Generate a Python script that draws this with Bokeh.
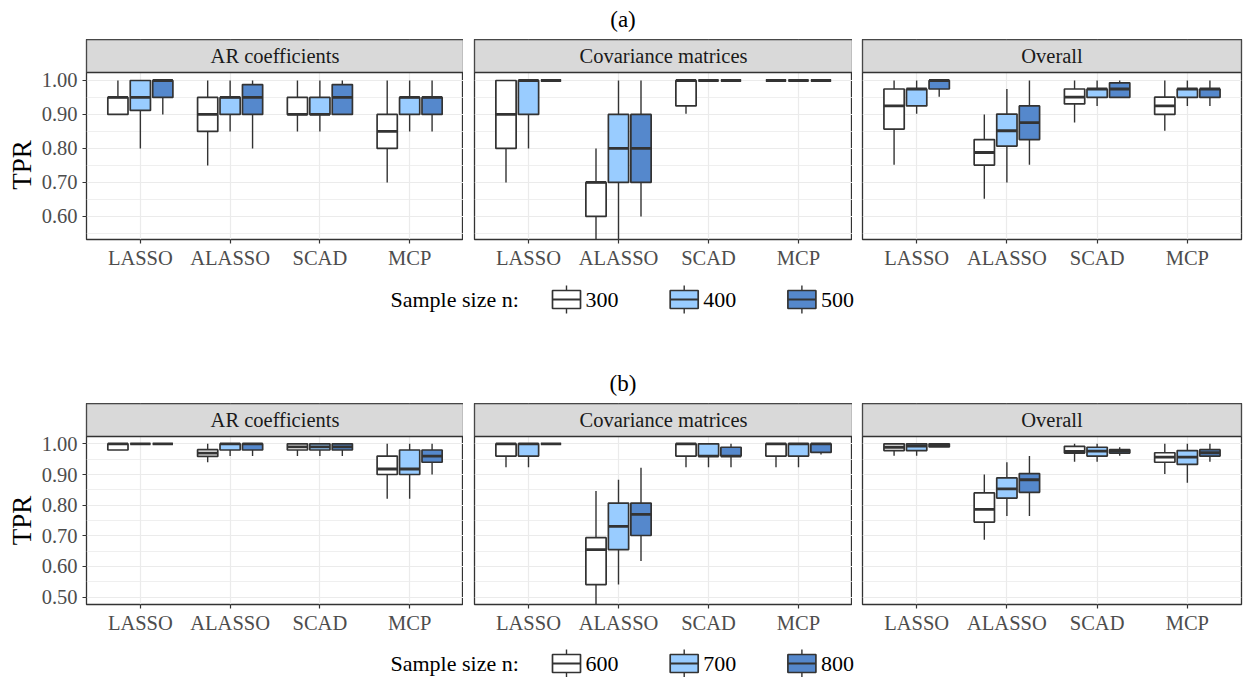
import math
from bokeh.plotting import figure
from bokeh.layouts import column, row
from bokeh.models import Range1d, FixedTicker, PrintfTickFormatter, ColumnDataSource
from bokeh.core.properties import value
from bokeh.embed import file_html
from bokeh.resources import INLINE

# ---------------- data ----------------
methods = ["LASSO", "ALASSO", "SCAD", "MCP"]
panels = ["AR coefficients", "Covariance matrices", "Overall"]
sizes_a = ["300", "400", "500"]
sizes_b = ["600", "700", "800"]
fills = ["#FFFFFF", "#99CCFF", "#5588CC"]
legend_title = "Sample size n:"
y_title = "TPR"

yticks_a = [0.6, 0.7, 0.8, 0.9, 1.0]
yminor_a = [0.55, 0.65, 0.75, 0.85, 0.95]
ylim_a = [0.532, 1.0235]
yticks_b = [0.5, 0.6, 0.7, 0.8, 0.9, 1.0]
yminor_b = [0.55, 0.65, 0.75, 0.85, 0.95]
ylim_b = [0.476, 1.024]

# Box statistics: rows = LASSO, ALASSO, SCAD, MCP ; columns = three sample sizes
# (a) AR coefficients
a_ar_low  = [[0.90, 0.80, 0.90], [0.75, 0.85, 0.80], [0.85, 0.85, 0.90], [0.70, 0.85, 0.85]]
a_ar_q1   = [[0.90, 0.912, 0.95], [0.85, 0.90, 0.90], [0.90, 0.90, 0.90], [0.80, 0.90, 0.90]]
a_ar_med  = [[0.95, 0.95, 1.00], [0.90, 0.95, 0.95], [0.90, 0.90, 0.95], [0.85, 0.95, 0.95]]
a_ar_q3   = [[0.95, 1.00, 1.00], [0.95, 0.95, 0.988], [0.95, 0.95, 0.988], [0.90, 0.95, 0.95]]
a_ar_high = [[1.00, 1.00, 1.00], [1.00, 1.00, 1.00], [1.00, 1.00, 1.00], [1.00, 1.00, 1.00]]
# (a) Covariance matrices
a_cov_low  = [[0.70, 0.80, 1.00], [0.50, 0.50, 0.60], [0.902, 1.00, 1.00], [1.00, 1.00, 1.00]]
a_cov_q1   = [[0.80, 0.90, 1.00], [0.60, 0.70, 0.70], [0.925, 1.00, 1.00], [1.00, 1.00, 1.00]]
a_cov_med  = [[0.90, 1.00, 1.00], [0.70, 0.80, 0.80], [1.00, 1.00, 1.00], [1.00, 1.00, 1.00]]
a_cov_q3   = [[1.00, 1.00, 1.00], [0.70, 0.90, 0.90], [1.00, 1.00, 1.00], [1.00, 1.00, 1.00]]
a_cov_high = [[1.00, 1.00, 1.00], [0.80, 1.00, 1.00], [1.00, 1.00, 1.00], [1.00, 1.00, 1.00]]
# (a) Overall
a_all_low  = [[0.752, 0.902, 0.952], [0.652, 0.700, 0.752], [0.876, 0.925, 0.950], [0.852, 0.925, 0.925]]
a_all_q1   = [[0.857, 0.925, 0.975], [0.751, 0.807, 0.826], [0.931, 0.950, 0.950], [0.900, 0.950, 0.950]]
a_all_med  = [[0.925, 0.975, 1.000], [0.788, 0.852, 0.876], [0.951, 0.975, 0.975], [0.925, 0.975, 0.975]]
a_all_q3   = [[0.975, 0.975, 1.000], [0.826, 0.901, 0.925], [0.975, 0.975, 0.993], [0.951, 0.975, 0.975]]
a_all_high = [[1.000, 1.000, 1.000], [0.900, 0.975, 1.000], [1.000, 1.000, 1.000], [1.000, 1.000, 1.000]]
# (b) AR coefficients
b_ar_low  = [[0.98, 1.00, 1.00], [0.94, 0.96, 0.96], [0.96, 0.96, 0.96], [0.821, 0.821, 0.90]]
b_ar_q1   = [[0.98, 1.00, 1.00], [0.959, 0.98, 0.98], [0.98, 0.98, 0.98], [0.90, 0.90, 0.94]]
b_ar_med  = [[1.00, 1.00, 1.00], [0.97, 1.00, 1.00], [0.99, 0.99, 0.99], [0.918, 0.918, 0.96]]
b_ar_q3   = [[1.00, 1.00, 1.00], [0.981, 1.00, 1.00], [1.00, 1.00, 1.00], [0.96, 0.98, 0.98]]
b_ar_high = [[1.00, 1.00, 1.00], [1.00, 1.00, 1.00], [1.00, 1.00, 1.00], [1.00, 1.00, 1.00]]
# (b) Covariance matrices
b_cov_low  = [[0.924, 0.924, 1.00], [0.46, 0.541, 0.618], [0.924, 0.924, 0.924], [0.924, 0.924, 0.965]]
b_cov_q1   = [[0.96, 0.96, 1.00], [0.541, 0.655, 0.701], [0.96, 0.96, 0.96], [0.96, 0.96, 0.972]]
b_cov_med  = [[1.00, 1.00, 1.00], [0.655, 0.731, 0.770], [1.00, 0.96, 0.96], [1.00, 1.00, 1.00]]
b_cov_q3   = [[1.00, 1.00, 1.00], [0.694, 0.807, 0.807], [1.00, 1.00, 0.989], [1.00, 1.00, 1.00]]
b_cov_high = [[1.00, 1.00, 1.00], [0.846, 0.883, 0.922], [1.00, 1.00, 1.00], [1.00, 1.00, 1.00]]
# (b) Overall
b_all_low  = [[0.961, 0.961, 0.990], [0.687, 0.765, 0.765], [0.942, 0.942, 0.961], [0.902, 0.873, 0.942]]
b_all_q1   = [[0.978, 0.978, 0.990], [0.745, 0.823, 0.842], [0.970, 0.960, 0.970], [0.940, 0.933, 0.960]]
b_all_med  = [[0.989, 0.993, 0.995], [0.786, 0.853, 0.883], [0.975, 0.976, 0.976], [0.957, 0.957, 0.971]]
b_all_q3   = [[1.000, 1.000, 1.000], [0.840, 0.889, 0.903], [0.992, 0.989, 0.981], [0.971, 0.978, 0.981]]
b_all_high = [[1.000, 1.000, 1.000], [0.900, 0.940, 0.960], [1.000, 1.000, 0.989], [1.000, 1.000, 1.000]]

stats_a = [
    (a_ar_low, a_ar_q1, a_ar_med, a_ar_q3, a_ar_high),
    (a_cov_low, a_cov_q1, a_cov_med, a_cov_q3, a_cov_high),
    (a_all_low, a_all_q1, a_all_med, a_all_q3, a_all_high),
]
stats_b = [
    (b_ar_low, b_ar_q1, b_ar_med, b_ar_q3, b_ar_high),
    (b_cov_low, b_cov_q1, b_cov_med, b_cov_q3, b_cov_high),
    (b_all_low, b_all_q1, b_all_med, b_all_q3, b_all_high),
]

# ---------------- layout constants ----------------
FONT = "Liberation Serif"
TOTAL_W = 1245
LBL_W = 38
LEFT1 = 47                 # room for the y tick labels
FWS = [378, 378, 379]      # frame widths of the facets
GAPS = [LEFT1, 11, 10]     # left borders of the facet figures
STRIP_H = 33
BOTTOM = 36
DODGE = 0.25
BOXW = 0.225
DARK = "#333333"
GRIDC = "#EBEBEB"


def make_panel(idx, title, stats, ylim, yticks, yminor, frame_h):
    low, q1, med, q3, high = stats
    y0, y1 = ylim
    plot_px = frame_h - STRIP_H
    ytop = y1 + (y1 - y0) * STRIP_H / plot_px
    mleft = GAPS[idx]
    mright = TOTAL_W - LBL_W - sum(GAPS) - sum(FWS) if idx == 2 else 0
    p = figure(width=mleft + FWS[idx] + mright, height=frame_h + BOTTOM,
               x_range=Range1d(0.4, 4.6), y_range=Range1d(y0, ytop),
               output_backend="svg", toolbar_location=None,
               min_border_left=mleft, min_border_right=mright,
               min_border_top=0, min_border_bottom=BOTTOM)
    p.outline_line_color = DARK
    p.outline_line_width = 1.3
    p.background_fill_color = "white"

    xt = FixedTicker(ticks=[1, 2, 3, 4])
    yt = FixedTicker(ticks=yticks, minor_ticks=yminor)
    p.xaxis.ticker = xt
    p.xaxis.major_label_overrides = {i + 1: m for i, m in enumerate(methods)}
    p.yaxis.ticker = yt
    p.yaxis.formatter = PrintfTickFormatter(format="%.2f")
    for ax in (p.xaxis, p.yaxis):
        ax.axis_line_color = None
        ax.major_tick_line_color = DARK
        ax.major_tick_line_width = 1.2
        ax.major_tick_out = 4
        ax.major_tick_in = 0
        ax.minor_tick_line_color = None
        ax.major_label_text_font = FONT
        ax.major_label_text_font_size = "20.5px"
        ax.major_label_text_color = "#4D4D4D"
    p.xaxis.major_label_standoff = 3
    p.yaxis.major_label_standoff = 5
    if idx != 0:
        p.yaxis.visible = False

    p.xgrid.ticker = xt
    p.ygrid.ticker = yt
    p.xgrid.grid_line_color = GRIDC
    p.xgrid.grid_line_width = 1.2
    p.ygrid.grid_line_color = GRIDC
    p.ygrid.grid_line_width = 1.2
    p.ygrid.minor_grid_line_color = GRIDC
    p.ygrid.minor_grid_line_width = 0.8

    # boxes, one source per sample size
    for si in range(3):
        xs = [mi + 1 + (si - 1) * DODGE for mi in range(len(methods))]
        src = ColumnDataSource(dict(
            x=xs,
            left=[x - BOXW / 2 for x in xs],
            right=[x + BOXW / 2 for x in xs],
            low=[low[mi][si] for mi in range(len(methods))],
            q1=[q1[mi][si] for mi in range(len(methods))],
            med=[med[mi][si] for mi in range(len(methods))],
            q3=[q3[mi][si] for mi in range(len(methods))],
            high=[high[mi][si] for mi in range(len(methods))],
        ))
        p.segment(x0="x", y0="low", x1="x", y1="high", source=src,
                  line_color=DARK, line_width=1.4)
        p.quad(left="left", right="right", bottom="q1", top="q3", source=src,
               fill_color=fills[si], line_color=DARK, line_width=1.7)
        p.segment(x0="left", y0="med", x1="right", y1="med", source=src,
                  line_color=DARK, line_width=2.8)

    # facet strip
    p.quad(left=[0.4], right=[4.6], bottom=[y1], top=[ytop],
           fill_color="#D9D9D9", line_color=DARK, line_width=1.3)
    p.text(x=[2.5], y=[(y1 + ytop) / 2], text=[title],
           text_align="center", text_baseline="middle",
           text_font=value(FONT), text_font_size="20.5px", text_color="#1A1A1A")
    return p


def blank(width, height):
    p = figure(width=width, height=height,
               x_range=Range1d(0, width), y_range=Range1d(height, 0),
               output_backend="svg", toolbar_location=None,
               x_axis_location=None, y_axis_location=None,
               min_border_left=0, min_border_right=0,
               min_border_top=0, min_border_bottom=0)
    p.outline_line_color = None
    p.grid.visible = False
    return p


def make_header(label, height, cy):
    h = blank(TOTAL_W, height)
    h.text(x=[622.5], y=[cy], text=[label], text_align="center",
           text_baseline="middle", text_font=value(FONT),
           text_font_size="23px", text_color="#000000")
    return h


def make_ylabel(frame_h, cy):
    h = frame_h + BOTTOM
    l = blank(LBL_W, h)
    l.text(x=[21.5], y=[cy], text=[y_title],
           angle=math.pi / 2, text_align="center", text_baseline="middle",
           text_font=value(FONT), text_font_size="27px", text_color="#000000")
    return l


def make_legend(sizes, height, cy):
    lg = blank(TOTAL_W, height)
    lg.text(x=[390], y=[cy], text=[legend_title], text_align="left",
            text_baseline="middle", text_font=value(FONT),
            text_font_size="22px", text_color="#000000")
    kx = [566 + i * 117.7 for i in range(len(sizes))]
    lg.segment(x0=kx, y0=[cy - 14] * 3, x1=kx, y1=[cy + 14] * 3,
               line_color=DARK, line_width=1.4)
    lg.quad(left=[k - 14 for k in kx], right=[k + 14 for k in kx],
            top=[cy - 9] * 3, bottom=[cy + 9] * 3,
            fill_color=fills, line_color=DARK, line_width=1.7)
    lg.segment(x0=[k - 14 for k in kx], y0=[cy] * 3, x1=[k + 14 for k in kx],
               y1=[cy] * 3, line_color=DARK, line_width=2.2)
    lg.text(x=[k + 19 for k in kx], y=[cy] * 3, text=sizes, text_align="left",
            text_baseline="middle", text_font=value(FONT),
            text_font_size="22px", text_color="#000000")
    return lg


FH_A, FH_B = 200, 201
row_a = row(make_ylabel(FH_A, 148),
            *[make_panel(i, panels[i], stats_a[i], ylim_a, yticks_a, yminor_a, FH_A)
              for i in range(3)])
row_b = row(make_ylabel(FH_B, 138),
            *[make_panel(i, panels[i], stats_b[i], ylim_b, yticks_b, yminor_b, FH_B)
              for i in range(3)])

layout = column(
    make_header("(a)", 39, 18.5),
    row_a,
    make_legend(sizes_a, 89, 24),
    make_header("(b)", 39, 19),
    row_b,
    make_legend(sizes_b, 37, 23),
)

open("out.html", "w").write(file_html(layout, INLINE))
